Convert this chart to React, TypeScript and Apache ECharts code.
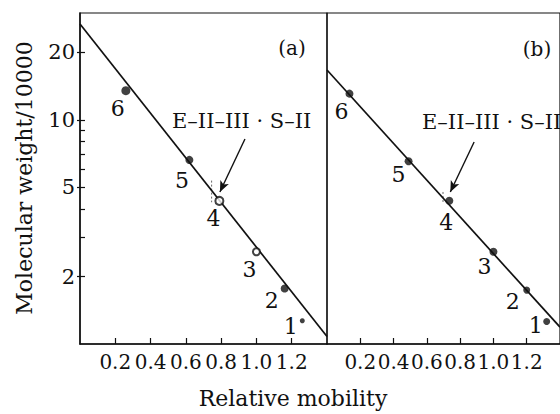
import React, { useEffect, useRef } from "react";
import * as echarts from "echarts";

// ---- data ----
const X_TICKS = [0.2, 0.4, 0.6, 0.8, 1.0, 1.2];
const Y_TICKS = [2, 3, 4, 5, 6, 7, 8, 9, 10, 20];
const Y_LABELS = [2, 5, 10, 20];
const POINT_IDS = ["1", "2", "3", "4", "5", "6"];

const MOBILITY_A = [1.26, 1.16, 1.0, 0.79, 0.62, 0.26];
const MW_A = [1.27, 1.77, 2.58, 4.35, 6.63, 13.5];
const MOBILITY_B = [1.32, 1.2, 1.0, 0.735, 0.49, 0.135];
const MW_B = [1.26, 1.74, 2.58, 4.36, 6.54, 13.1];

const FIT_X = [0, 1.4];
const FIT_A_Y = [26.8, 1.08];
const FIT_B_Y = [16.7, 1.19];

const ARROW_A_X = [0.935, 0.793];
const ARROW_A_Y = [8.22, 4.77];
const ARROW_B_X = [0.884, 0.741];
const ARROW_B_Y = [7.97, 4.77];

const MARK_A_X = [0.746, 0.746];
const MARK_A_Y = [5.36, 4.29];
const MARK_B_X = [0.697, 0.697];
const MARK_B_Y = [4.77, 4.22];

const SAMPLE_LABEL = "E–II–III · S–II";
const PANEL_LABELS = ["(a)", "(b)"];
const X_TITLE = "Relative mobility";
const Y_TITLE = "Molecular weight/10000";

// ---- styling / layout (not data) ----
const INK = "#111";
const FONT = "DejaVu Serif";
const LABEL_OFFSET_A = [[-11.5, 6], [-13, 12], [-7, 18], [-6, 18], [-7.5, 21], [-8, 18]];
const LABEL_OFFSET_B = [[-11, 4.4], [-14, 11], [-9, 14.4], [-3, 21.6], [-10, 13.5], [-8, 17.5]];
const HOLLOW_A = [false, false, true, true, false, false];
const SIZE_A = [5, 8, 7, 8, 8, 9];
const SIZE_B = [7, 7, 8, 8, 8, 8];

const lg = (v: number) => Math.log10(v);

function points(xs: number[], ys: number[], offsets: number[][], hollow: boolean[], sizes: number[]) {
  return xs.map((x, i) => ({
    value: [x, lg(ys[i])],
    symbolSize: sizes[i],
    itemStyle: hollow[i]
      ? { color: "#fff", borderColor: INK, borderWidth: 2 }
      : { color: INK, borderColor: INK, borderWidth: 0 },
    label: {
      show: true,
      formatter: POINT_IDS[i],
      position: "inside",
      offset: offsets[i],
      color: INK,
      textBorderWidth: 0,
      textBorderColor: "transparent",
      opacity: 1,
      fontFamily: FONT,
      fontSize: 22,
    },
  }));
}

function pairs(xs: number[], ys: number[]) {
  return xs.map((x, i) => [x, lg(ys[i])]);
}

function arrow(xs: number[], ys: number[]) {
  return {
    silent: true,
    symbol: ["none", "arrow"],
    symbolSize: [7, 11],
    lineStyle: { color: INK, width: 1.4, type: "solid" },
    label: { show: false },
    data: [[{ coord: [xs[0], lg(ys[0])] }, { coord: [xs[1], lg(ys[1])] }]],
  };
}

export default function App() {
  const ref = useRef<HTMLDivElement>(null);

  useEffect(() => {
    document.body.style.margin = "0";
    if (!ref.current) return;
    const chart = echarts.init(ref.current, undefined, { renderer: "svg" });

    const xAxisBase = (gridIndex: number) => ({
      type: "value",
      gridIndex,
      min: 0,
      max: 1.4,
      axisLine: { show: true, lineStyle: { color: INK, width: 1.5 } },
      axisTick: {
        show: true,
        inside: true,
        length: 6,
        customValues: X_TICKS,
        lineStyle: { color: INK, width: 1.2 },
      },
      axisLabel: {
        show: true,
        customValues: X_TICKS,
        formatter: (v: number) => v.toFixed(1),
        margin: 8,
        color: INK,
        fontFamily: FONT,
        fontSize: 20,
      },
      splitLine: { show: false },
    });

    const option = {
      animation: false,
      backgroundColor: "#fff",
      grid: [
        { left: 80, top: 13, width: 247, height: 331, show: true, borderColor: INK, borderWidth: 1.2 },
        { left: 327, top: 13, width: 245, height: 331, show: true, borderColor: INK, borderWidth: 1.2 },
      ],
      xAxis: [xAxisBase(0), xAxisBase(1)],
      yAxis: [
        {
          type: "value",
          gridIndex: 0,
          min: 0,
          max: lg(30),
          axisLine: { show: true, lineStyle: { color: INK, width: 1.5 } },
          axisTick: {
            show: true,
            inside: true,
            length: 5,
            customValues: Y_TICKS.map(lg),
            lineStyle: { color: INK, width: 1.2 },
          },
          axisLabel: {
            show: true,
            customValues: Y_LABELS.map(lg),
            formatter: (v: number) => String(Math.round(Math.pow(10, v))),
            margin: 5,
            color: INK,
            fontFamily: FONT,
            fontSize: 21,
          },
          splitLine: { show: false },
        },
        {
          type: "value",
          gridIndex: 1,
          min: 0,
          max: lg(30),
          axisLine: { show: false },
          axisTick: { show: false },
          axisLabel: { show: false },
          splitLine: { show: false },
        },
        {
          // outer half of the major ticks on the left axis
          type: "value",
          gridIndex: 0,
          position: "left",
          min: 0,
          max: lg(30),
          axisLine: { show: false },
          axisTick: {
            show: true,
            inside: false,
            length: 3,
            customValues: Y_LABELS.map(lg),
            lineStyle: { color: INK, width: 1.2 },
          },
          axisLabel: { show: false },
          splitLine: { show: false },
        },
      ],
      series: [
        {
          type: "line",
          xAxisIndex: 0,
          yAxisIndex: 0,
          data: pairs(FIT_X, FIT_A_Y),
          symbol: "none",
          lineStyle: { color: INK, width: 1.7 },
          clip: true,
          z: 2,
        },
        {
          type: "line",
          xAxisIndex: 1,
          yAxisIndex: 1,
          data: pairs(FIT_X, FIT_B_Y),
          symbol: "none",
          lineStyle: { color: INK, width: 1.7 },
          clip: true,
          z: 2,
        },
        {
          type: "line",
          xAxisIndex: 0,
          yAxisIndex: 0,
          data: pairs(MARK_A_X, MARK_A_Y),
          symbol: "none",
          lineStyle: { color: "#666", width: 1, type: [2, 2] },
          z: 1,
        },
        {
          type: "line",
          xAxisIndex: 1,
          yAxisIndex: 1,
          data: pairs(MARK_B_X, MARK_B_Y),
          symbol: "none",
          lineStyle: { color: "#666", width: 1, type: [2, 2] },
          z: 1,
        },
        {
          type: "scatter",
          xAxisIndex: 0,
          yAxisIndex: 0,
          data: points(MOBILITY_A, MW_A, LABEL_OFFSET_A, HOLLOW_A, SIZE_A),
          markLine: arrow(ARROW_A_X, ARROW_A_Y),
          z: 3,
        },
        {
          type: "scatter",
          xAxisIndex: 1,
          yAxisIndex: 1,
          data: points(MOBILITY_B, MW_B, LABEL_OFFSET_B, [false, false, false, false, false, false], SIZE_B),
          markLine: arrow(ARROW_B_X, ARROW_B_Y),
          z: 3,
        },
      ],
      graphic: [
        {
          type: "text",
          x: 292,
          y: 48,
          style: { text: PANEL_LABELS[0], fill: INK, font: `20px '${FONT}'`, textAlign: "center", textVerticalAlign: "middle" },
        },
        {
          type: "text",
          x: 537,
          y: 49,
          style: { text: PANEL_LABELS[1], fill: INK, font: `20px '${FONT}'`, textAlign: "center", textVerticalAlign: "middle" },
        },
        {
          type: "text",
          x: 172,
          y: 121,
          style: { text: SAMPLE_LABEL, fill: INK, font: `21px '${FONT}'`, textAlign: "left", textVerticalAlign: "middle" },
        },
        {
          type: "text",
          x: 422,
          y: 122,
          style: { text: SAMPLE_LABEL, fill: INK, font: `21px '${FONT}'`, textAlign: "left", textVerticalAlign: "middle" },
        },
        {
          type: "text",
          x: 293,
          y: 398,
          style: { text: X_TITLE, fill: INK, font: `22px '${FONT}'`, textAlign: "center", textVerticalAlign: "middle" },
        },
        {
          type: "text",
          x: 24,
          y: 178,
          rotation: Math.PI / 2,
          style: { text: Y_TITLE, fill: INK, font: `22px '${FONT}'`, textAlign: "center", textVerticalAlign: "middle" },
        },
      ],
    };

    chart.setOption(option as any);
    return () => chart.dispose();
  }, []);

  return <div ref={ref} style={{ width: 560, height: 414 }} />;
}
